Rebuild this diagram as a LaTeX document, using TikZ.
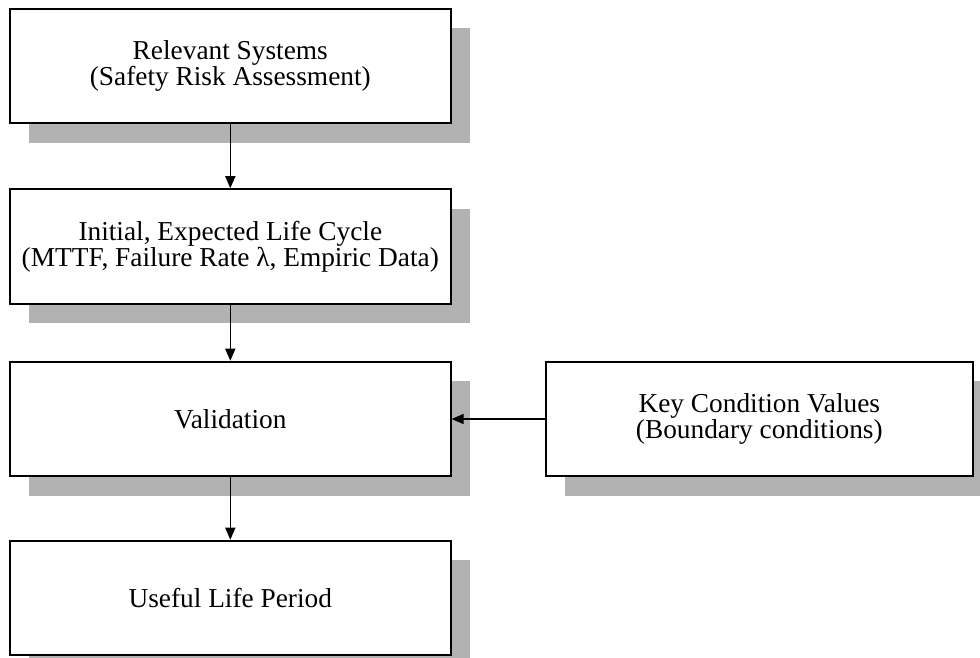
\documentclass[tikz,border=0pt]{standalone}
\usepackage{fontspec}
\setmainfont{Liberation Serif}
\usetikzlibrary{shadows,arrows.meta}
\begin{document}
\begin{tikzpicture}[x=0.75pt,y=-0.75pt,
  box/.style={draw=black, line width=1.4pt, fill=white, rectangle,
    minimum width=330.5pt, minimum height=86pt, align=center,
    font=\fontsize{20.5pt}{19.5pt}\selectfont, inner sep=0pt,
    drop shadow={shadow xshift=14.5pt, shadow yshift=-14.5pt, fill=black!30, opacity=1}},
  arr/.style={draw=black, line width=1.1pt, -{Triangle[length=9pt,width=7.5pt]}}]
\useasboundingbox (0,0) rectangle (980,657);
\clip (0,0) rectangle (980,657);
\node[box] (b1) at (230.3,66) {Relevant Systems\\(Safety Risk Assessment)};
\node[box] (b2) at (230.3,246.5) {Initial, Expected Life Cycle\\(MTTF, Failure Rate λ, Empiric Data)};
\node[box] (b3) at (230.3,419) {Validation};
\node[box] (b4) at (230.3,598) {Useful Life Period};
\node[box, minimum width=320pt] (b5) at (759.3,419) {Key Condition Values\\(Boundary conditions)};
\draw[arr] (b1) -- (b2);
\draw[arr] (b2) -- (b3);
\draw[arr] (b3) -- (b4);
\draw[arr] (b5) -- (b3);
\end{tikzpicture}
\end{document}
